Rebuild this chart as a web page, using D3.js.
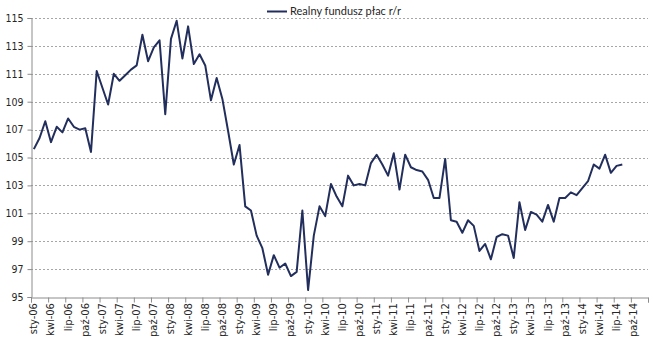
<!DOCTYPE html>
<html>
<head>
<meta charset="utf-8">
<script src="https://cdn.jsdelivr.net/npm/d3@7"></script>
<style>
  html, body { margin: 0; padding: 0; background: #fff; }
  svg { display: block; }
</style>
</head>
<body>
<svg id="chart" width="653" height="349"></svg>
<script>
// Month abbreviations and years used for the category axis
const monthNames = ["sty", "lut", "mar", "kwi", "maj", "cze", "lip", "sie", "wrz", "paź", "lis", "gru"];
const years = ["06", "07", "08", "09", "10", "11", "12", "13", "14"];

// Real wage fund, y/y index (previous year = 100), Jan 2006 – Aug 2014
const wageFund = [
  105.6, 106.4, 107.6, 106.1, 107.2, 106.8, 107.8, 107.2, 107.0, 107.1, 105.4, 111.2,
  110.0, 108.8, 111.0, 110.5, 110.9, 111.3, 111.6, 113.8, 111.9, 112.9, 113.4, 108.1,
  113.5, 114.8, 112.1, 114.4, 111.7, 112.4, 111.6, 109.1, 110.7, 109.2, 106.9, 104.5,
  105.9, 101.5, 101.2, 99.4, 98.5, 96.6, 98.0, 97.1, 97.4, 96.5, 96.8, 101.2,
  95.5, 99.4, 101.5, 100.8, 103.1, 102.2, 101.5, 103.7, 103.0, 103.1, 103.0, 104.6,
  105.2, 104.5, 103.7, 105.3, 102.7, 105.2, 104.3, 104.1, 104.0, 103.4, 102.1, 102.1,
  104.9, 100.5, 100.4, 99.6, 100.5, 100.1, 98.3, 98.8, 97.7, 99.3, 99.5, 99.4,
  97.8, 101.8, 99.8, 101.1, 100.9, 100.4, 101.6, 100.4, 102.1, 102.1, 102.5, 102.3,
  102.8, 103.3, 104.5, 104.2, 105.2, 103.9, 104.4, 104.5
];

const yTicks = [95, 97, 99, 101, 103, 105, 107, 109, 111, 113, 115];
const seriesName = "Realny fundusz płac r/r";

// All monthly categories on the axis (Jan 2006 – Dec 2014)
const categories = [];
years.forEach(yr => monthNames.forEach(m => categories.push(m + "-" + yr)));

const svg = d3.select("#chart");
const plot = { left: 31, right: 648, top: 18, bottom: 297 };
const lineColor = "#222e5c";
const axisColor = "#8c8c8c";
const yFont = "'DejaVu Sans Condensed', 'DejaVu Sans', sans-serif";
const xFont = "'DejaVu Sans', sans-serif";

const x = d3.scaleBand().domain(categories).range([plot.left, plot.right]).paddingInner(0).paddingOuter(0);
const xIdx = d3.scaleLinear().domain([0, categories.length]).range([plot.left, plot.right]);
const y = d3.scaleLinear().domain([95, 115]).range([plot.bottom, plot.top]);

// Horizontal dotted gridlines
svg.append("g")
  .selectAll("line")
  .data(yTicks.filter(t => t !== 95))
  .join("line")
  .attr("x1", plot.left).attr("x2", plot.right)
  .attr("y1", d => Math.round(y(d)) + 0.5).attr("y2", d => Math.round(y(d)) + 0.5)
  .attr("stroke", "#a6a6a6")
  .attr("stroke-width", 1)
  .attr("stroke-dasharray", "2,2");

// Y axis
const yAxis = svg.append("g")
  .attr("transform", `translate(${plot.left + 0.5},0)`)
  .call(d3.axisLeft(y).tickValues(yTicks).tickSize(4).tickPadding(4).tickFormat(d3.format("d")));
yAxis.select(".domain").attr("stroke", axisColor);
yAxis.selectAll(".tick line").attr("stroke", axisColor);
yAxis.selectAll(".tick text")
  .attr("fill", "#262626")
  .style("font-family", yFont)
  .style("font-size", "10.5px");

// X axis: tick marks at category boundaries every three months
const boundaryTicks = d3.range(0, categories.length + 1, 3);
const xAxis = svg.append("g")
  .attr("transform", `translate(0,${plot.bottom + 0.5})`)
  .call(d3.axisBottom(xIdx).tickValues(boundaryTicks).tickSize(5).tickFormat(""));
xAxis.select(".domain").attr("stroke", axisColor);
xAxis.selectAll(".tick line").attr("stroke", axisColor);

// Rotated month labels centred on their categories
const labelCats = categories.filter((c, i) => i % 3 === 0);
svg.append("g")
  .selectAll("text")
  .data(labelCats)
  .join("text")
  .attr("transform", d => `translate(${x(d) + x.bandwidth() / 2 + 3.5},${plot.bottom + 6}) rotate(-90)`)
  .attr("text-anchor", "end")
  .attr("fill", "#262626")
  .style("font-family", xFont)
  .style("font-size", "10px")
  .text(d => d);

// Data line
const line = d3.line()
  .x((d, i) => x(categories[i]) + x.bandwidth() / 2)
  .y(d => y(d));

svg.append("path")
  .datum(wageFund)
  .attr("d", line)
  .attr("fill", "none")
  .attr("stroke", lineColor)
  .attr("stroke-width", 2)
  .attr("stroke-linejoin", "round");

// Legend
const legend = svg.append("g").attr("transform", "translate(267,11)");
legend.append("line")
  .attr("x1", 0).attr("x2", 20).attr("y1", 0.5).attr("y2", 0.5)
  .attr("stroke", lineColor).attr("stroke-width", 2);
legend.append("text")
  .attr("x", 23).attr("y", 4)
  .attr("fill", "#262626")
  .style("font-family", "Lato, 'Open Sans', sans-serif")
  .style("font-size", "11px")
  .text(seriesName);
</script>
</body>
</html>
